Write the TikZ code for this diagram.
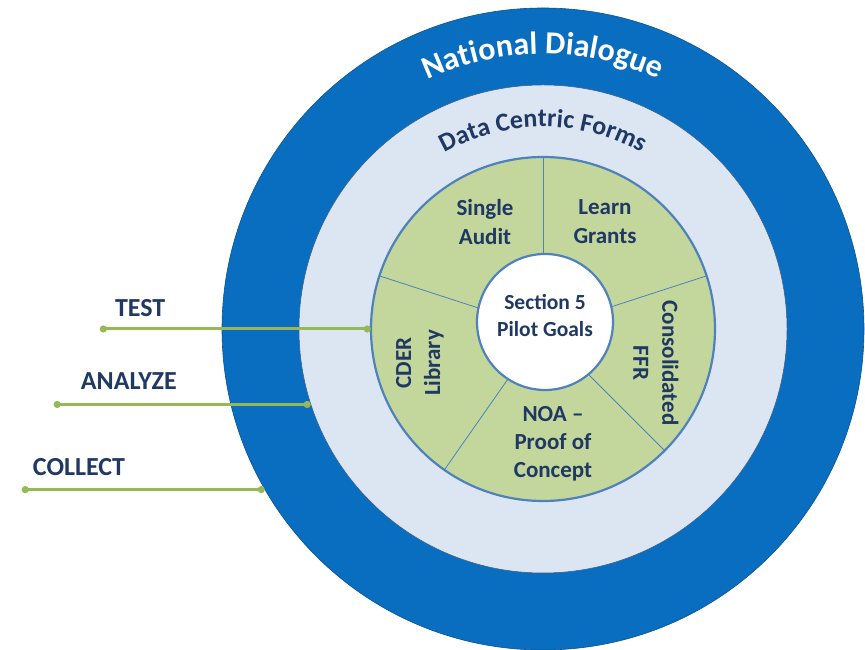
\documentclass[tikz,border=0pt]{standalone}
\usepackage{fontspec}
\setmainfont{Carlito}
\usepackage{tikz}
\usetikzlibrary{arrows.meta, decorations.text, positioning}

\definecolor{ringblue}{HTML}{0A6EC0}
\definecolor{ringlight}{HTML}{DCE6F2}
\definecolor{goalgreen}{HTML}{C3D69B}
\definecolor{edgeblue}{HTML}{4F81BD}
\definecolor{navy}{HTML}{1F3864}
\definecolor{stepgreen}{HTML}{94B956}

\begin{document}
\begin{tikzpicture}[
                    x=1pt, y=1pt,
                    ring/.style={circle, inner sep=0pt, minimum size=#1},
                    sector/.style={text=navy, align=center, font=\fontsize{23}{29}\selectfont\bfseries},
                    steplabel/.style={text=navy, inner sep=0pt, font=\fontsize{26}{26}\selectfont\bfseries},
                    stepline/.style={draw=stepgreen, line width=3pt, {Circle[length=7pt]}-{Circle[length=7pt]}},
                    divider/.style={draw=edgeblue, line width=0.8pt}
                ]
                \useasboundingbox (0,0) rectangle (865,650);

                % rings
                \node [ring=642pt, fill=ringblue, draw=ringblue!75!black, line width=0.6pt] (national) at (543,321) {};
                \node [ring=488pt, fill=ringlight, draw=edgeblue!70!black, line width=0.5pt] (forms) at (543,321) {};
                \node [ring=344pt, fill=goalgreen] (goals) at (543,321) {};

                % sector dividers
                \foreach \ang in {90, 18, -45, -125, 162}
                    \draw [divider] (goals.center) -- (goals.\ang);
                \draw [edgeblue, line width=2.2pt] (goals.center) circle (172);

                \node [ring=136pt, fill=white, draw=edgeblue, line width=2.2pt] (pilot) at (545,328) {};
                \node [sector, font=\fontsize{21.5}{27}\selectfont\bfseries] (pilottext) at (545,334) {Section 5\\Pilot Goals};

                % ring titles
                \path [decorate, decoration={text along path, text align=center,
                        text={|\fontsize{32}{32}\selectfont\bfseries\color{white}|National Dialogue}}]
                      ([shift={(150:275)}]national.center) arc [start angle=150, end angle=30, radius=275];
                \path [decorate, decoration={text along path, text align=center,
                        text={|\fontsize{26}{26}\selectfont\bfseries\color{navy}|Data Centric Forms}}]
                      ([shift={(150:202)}]forms.center) arc [start angle=150, end angle=30, radius=202];

                % sectors
                \node [sector] (audit) at (485,428) {Single\\Audit};
                \node [sector] (grants) at (605,428) {Learn\\Grants};
                \node [sector, rotate=90] (cder) at (420,287) {CDER\\Library};
                \node [sector, rotate=-90] (ffr) at (656,287) {Consolidated\\FFR};
                \node [sector, font=\fontsize{23}{28}\selectfont\bfseries] (noa) at (553,206) {NOA --\\Proof of\\Concept};

                % steps
                \coordinate [left=271pt of goals.west] (testend);
                \coordinate [left=257pt of forms.198] (analyzeend);
                \coordinate [left=243pt of national.210] (collectend);
                \node [steplabel, above right=12pt and 15pt of testend, anchor=south west] (test) {TEST};
                \node [steplabel, above right=15pt and 27pt of analyzeend, anchor=south west] (analyze) {ANALYZE};
                \node [steplabel, above right=14pt and 11pt of collectend, anchor=south west] (collect) {COLLECT};
                \draw [stepline] (testend) -- (goals.west);
                \draw [stepline] (analyzeend) -- (forms.198);
                \draw [stepline] (collectend) -- (national.210);
\end{tikzpicture}
\end{document}
